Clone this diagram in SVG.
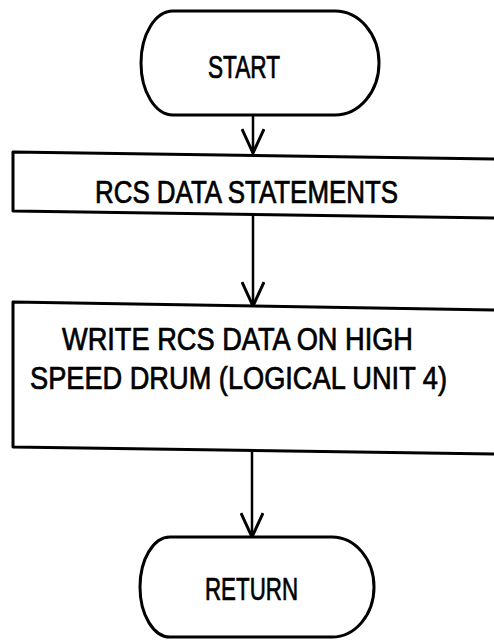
<svg xmlns="http://www.w3.org/2000/svg" width="494" height="640" viewBox="0 0 494 640">
  <style>
    .shape { fill: none; stroke: #000; stroke-width: 3; stroke-linejoin: round; }
    .edge { fill: none; stroke: #000; stroke-width: 2.5; }
    .label { font-family: "Liberation Sans", "DejaVu Sans", sans-serif; font-size: 26px; fill: #000; stroke: #000; stroke-width: 0.6; }
  </style>
  <defs>
    <!-- open V arrowhead, tip at the end of a downward line -->
    <marker id="vee" viewBox="0 0 24 26" refX="12" refY="25" markerWidth="24" markerHeight="26" markerUnits="userSpaceOnUse" orient="0">
      <path d="M1,1 L12,25 L23,1" fill="none" stroke="#000" stroke-width="3"/>
    </marker>
  </defs>
  <rect width="494" height="640" fill="#fff"/>

  <!-- terminal: START -->
  <g id="start">
    <path class="shape" d="M173,11 L335,11 A44,52 0 0 1 335,115 L173,115 A32,52 0 0 1 173,11 Z"/>
    <text class="label" transform="translate(208,78) scale(1,1.18)" textLength="72" lengthAdjust="spacingAndGlyphs">START</text>
  </g>

  <!-- process: data statements (box runs past the right edge) -->
  <g id="rcs-data">
    <path class="shape" d="M500,159 L13,152 L13,211 L500,218"/>
    <text class="label" transform="translate(95,203) scale(1,1.18)" textLength="303" lengthAdjust="spacingAndGlyphs">RCS DATA STATEMENTS</text>
  </g>

  <!-- process: write to drum -->
  <g id="write-drum">
    <path class="shape" d="M500,310 L13,302 L13,447 L500,454"/>
    <text class="label" transform="translate(62,350) scale(1,1.18)" textLength="351" lengthAdjust="spacingAndGlyphs">WRITE RCS DATA ON HIGH</text>
    <text class="label" transform="translate(30,389) scale(1,1.18)" textLength="417" lengthAdjust="spacingAndGlyphs">SPEED DRUM (LOGICAL UNIT 4)</text>
  </g>

  <!-- terminal: RETURN -->
  <g id="return">
    <path class="shape" d="M170,537 L332,537 A42,50 0 0 1 332,637 L170,637 A30,50 0 0 1 170,537 Z"/>
    <text class="label" transform="translate(205,600) scale(1,1.18)" textLength="93" lengthAdjust="spacingAndGlyphs">RETURN</text>
  </g>

  <!-- connectors -->
  <g id="connectors">
    <line class="edge" x1="253" y1="115" x2="253" y2="153" marker-end="url(#vee)"/>
    <line class="edge" x1="253" y1="214" x2="253" y2="306" marker-end="url(#vee)"/>
    <line class="edge" x1="252" y1="451" x2="252" y2="537" marker-end="url(#vee)"/>
  </g>
</svg>
